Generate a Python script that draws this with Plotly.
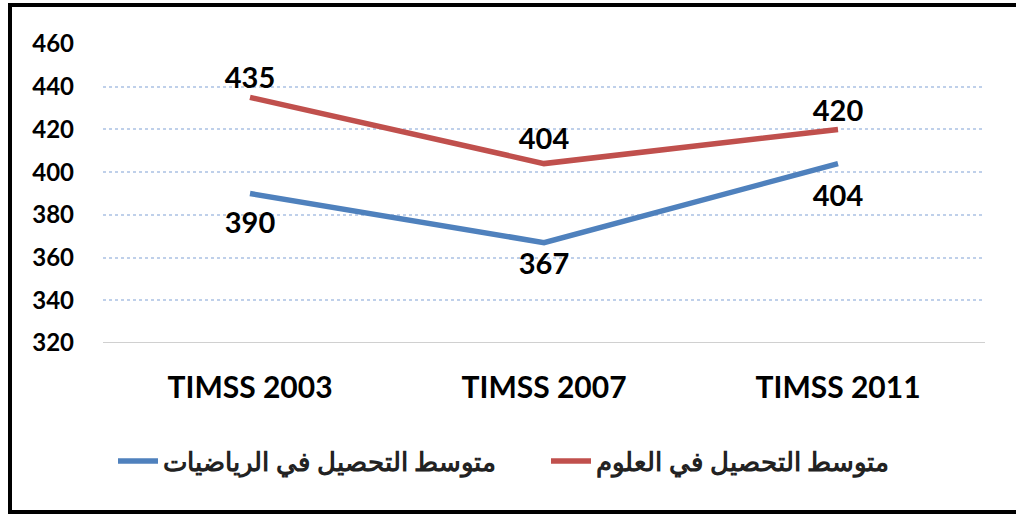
import plotly.graph_objects as go

categories = ["TIMSS 2003", "TIMSS 2007", "TIMSS 2011"]
math_vals = [390, 367, 404]
science_vals = [435, 404, 420]
math_name = "متوسط التحصيل في الرياضيات"
science_name = "متوسط التحصيل في العلوم"
y_ticks = [320, 340, 360, 380, 400, 420, 440, 460]

font_fam = "Lato, 'Open Sans', sans-serif"
clear = "rgba(0,0,0,0)"

fig = go.Figure()
fig.add_trace(go.Scatter(
    x=categories, y=math_vals, name=math_name, mode="lines+markers+text",
    text=[str(v) for v in math_vals], textposition="bottom center",
    line=dict(color="#4F81BD", width=5.5),
    marker=dict(size=[26, 14, 32], color=clear, line=dict(width=0, color=clear)),
    textfont=dict(family=font_fam, size=29, color="black", weight="bold"),
    cliponaxis=False,
))
fig.add_trace(go.Scatter(
    x=categories, y=science_vals, name=science_name, mode="lines+markers+text",
    text=[str(v) for v in science_vals], textposition="top center",
    line=dict(color="#C0504D", width=5.5),
    marker=dict(size=[2, 10, 1], color=clear, line=dict(width=0, color=clear)),
    textfont=dict(family=font_fam, size=29, color="black", weight="bold"),
    cliponaxis=False,
))

L, R, T, B = 103, 31, 44, 172
W, H = 1016, 515
pw, ph = W - L - R, H - T - B

def px(x):
    return (x - L) / pw

def py(y):
    return (H - B - y) / ph

fig.update_layout(
    width=W, height=H,
    margin=dict(l=L, r=R, t=T, b=B, autoexpand=False),
    paper_bgcolor="white", plot_bgcolor="white",
    font=dict(family=font_fam, color="black"),
    showlegend=True,
    legend=dict(
        orientation="h", x=px(113), xanchor="left", y=py(461), yanchor="middle",
        font=dict(size=26, color="#222", weight="bold", family="'Noto Sans', sans-serif"),
        entrywidth=378, entrywidthmode="pixels",
        itemwidth=40,
    ),
    xaxis=dict(
        range=[-0.5, 2.5], showgrid=False, showline=False, zeroline=False,
        tickfont=dict(size=30, weight="bold", family=font_fam),
        ticklabelstandoff=24, ticks="",
    ),
    yaxis=dict(
        range=[320, 460], tickvals=y_ticks, showgrid=True,
        gridcolor="#BFD0EA", griddash="dot", gridwidth=1.5,
        zeroline=False, showline=False,
        tickfont=dict(size=24, weight="bold", family=font_fam),
        ticks="", ticklabelstandoff=28,
    ),
    shapes=[
        dict(type="line", xref="paper", yref="y", x0=0, x1=1, y0=320, y1=320,
             line=dict(color="#D0D0D0", width=2)),
        dict(type="rect", xref="paper", yref="paper",
             x0=px(10), x1=px(1030), y0=py(512), y1=py(5),
             line=dict(color="black", width=4), fillcolor="rgba(0,0,0,0)", layer="below"),
    ],
)

fig.write_html(
    "out.html",
    config={"displayModeBar": False},
    post_script="document.body.style.margin='0px';document.body.style.overflow='hidden';",
)
